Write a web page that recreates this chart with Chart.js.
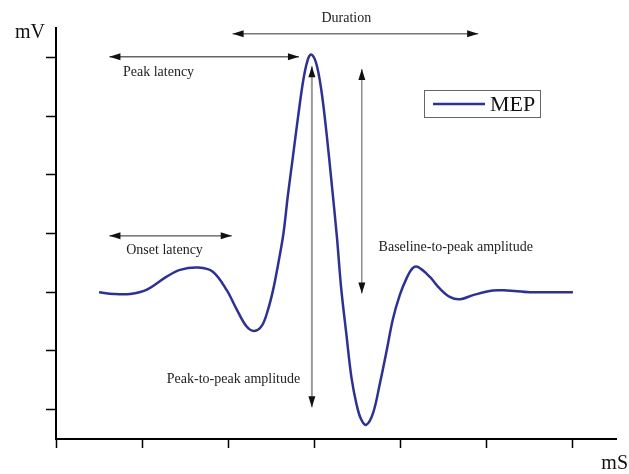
<!DOCTYPE html>
<html>
<head>
<meta charset="utf-8">
<title>MEP</title>
<script src="https://cdn.jsdelivr.net/npm/chart.js@4.4.1/dist/chart.umd.min.js"></script>
<style>
  html, body { margin:0; padding:0; background:#fff; }
  #wrap { width:629px; height:474px; }
</style>
</head>
<body>
<div id="wrap"><canvas id="mepC" width="629" height="474"></canvas></div>
<script>
// MEP waveform, values (x in ms units, y in mV units)
const timeMs = [0.50, 0.67, 0.86, 1.05, 1.28, 1.44, 1.65, 1.82, 1.98, 2.10, 2.21, 2.30,
  2.39, 2.46, 2.52, 2.58, 2.64, 2.69, 2.75, 2.81, 2.87, 2.92, 2.96, 3.02, 3.08, 3.14, 3.20, 3.26,
  3.31, 3.37, 3.43, 3.49, 3.54, 3.60, 3.68, 3.76, 3.84, 3.91, 3.99, 4.07, 4.14, 4.20,
  4.34, 4.45, 4.57, 4.69, 4.84, 5.07, 5.23, 5.50, 6.00];
const mepMv = [0.00, -0.03, -0.03, 0.04, 0.26, 0.38, 0.42, 0.35, 0.04, -0.30, -0.58, -0.66,
  -0.57, -0.30, 0.04, 0.49, 1.00, 1.63, 2.31, 2.99, 3.61, 3.95, 4.05, 3.90, 3.44, 2.71, 1.85, 0.95,
  0.07, -0.71, -1.46, -1.92, -2.16, -2.26, -2.06, -1.55, -0.98, -0.46, -0.05, 0.24, 0.41, 0.43,
  0.26, 0.07, -0.08, -0.12, -0.05, 0.03, 0.03, 0.00, 0.00];
const xTicks = [0, 1, 2, 3, 4, 5, 6];
const yTicks = [-2, -1, 0, 1, 2, 3, 4];
const seriesName = 'MEP';

// measurement arrows, ends in data units
const arrowNames = ['Duration', 'Peak latency', 'Onset latency', 'Peak-to-peak amplitude', 'Baseline-to-peak amplitude'];
const arrowFrom = [[2.05, 4.40], [0.62, 4.01], [0.62, 0.96], [2.97, 3.85], [3.55, 3.80]];
const arrowTo   = [[4.90, 4.40], [2.82, 4.01], [2.04, 0.96], [2.97, -1.96], [3.55, -0.02]];
const labelAt   = [[3.37, 4.66], [1.19, 3.74], [1.26, 0.72], [2.06, -1.49], [4.64, 0.76]];

const LINE_COL = '#2e3192';
const SERIF = '"Liberation Serif", "DejaVu Serif", serif';
const arrowStyle = [
  { color: '#777', w: 1.5 }, { color: '#666', w: 1.5 }, { color: '#555', w: 1.2 },
  { color: '#9a9a9a', w: 2 }, { color: '#555', w: 1 }
];

function arrowHead(ctx, tx, ty, fx, fy) {
  const a = Math.atan2(ty - fy, tx - fx), len = 11, half = 3.5;
  ctx.beginPath();
  ctx.moveTo(tx, ty);
  ctx.lineTo(tx - len * Math.cos(a) + half * Math.sin(a), ty - len * Math.sin(a) - half * Math.cos(a));
  ctx.lineTo(tx - len * Math.cos(a) - half * Math.sin(a), ty - len * Math.sin(a) + half * Math.cos(a));
  ctx.closePath();
  ctx.fill();
}

const annotate = {
  id: 'annotate',
  beforeDatasetsDraw(chart) {
    const { ctx, scales: { x, y } } = chart;
    ctx.save();
    arrowNames.forEach((name, i) => {
      const x1 = x.getPixelForValue(arrowFrom[i][0]), y1 = y.getPixelForValue(arrowFrom[i][1]);
      const x2 = x.getPixelForValue(arrowTo[i][0]), y2 = y.getPixelForValue(arrowTo[i][1]);
      ctx.strokeStyle = arrowStyle[i].color;
      ctx.lineWidth = arrowStyle[i].w;
      ctx.beginPath(); ctx.moveTo(x1, y1); ctx.lineTo(x2, y2); ctx.stroke();
      ctx.fillStyle = '#111';
      arrowHead(ctx, x1, y1, x2, y2);
      arrowHead(ctx, x2, y2, x1, y1);
      ctx.fillStyle = '#222';
      ctx.font = '14px ' + SERIF;
      ctx.textAlign = 'center'; ctx.textBaseline = 'middle';
      ctx.fillText(name, x.getPixelForValue(labelAt[i][0]), y.getPixelForValue(labelAt[i][1]));
    });
    ctx.restore();
  },
  afterDraw(chart) {
    const { ctx } = chart;
    ctx.save();
    // axis units
    ctx.fillStyle = '#111';
    ctx.font = '20px ' + SERIF;
    ctx.textBaseline = 'middle';
    ctx.textAlign = 'left';
    ctx.fillText('mV', 15, 33);
    ctx.textAlign = 'right';
    ctx.fillText('mS', 628, 464);
    // legend box
    ctx.strokeStyle = '#666'; ctx.lineWidth = 1;
    ctx.strokeRect(424.5, 90.5, 116, 27);
    ctx.strokeStyle = LINE_COL; ctx.lineWidth = 2.5;
    ctx.beginPath(); ctx.moveTo(433, 104); ctx.lineTo(485, 104); ctx.stroke();
    ctx.font = '22px ' + SERIF;
    ctx.textAlign = 'left';
    ctx.fillText(seriesName, 490, 105);
    ctx.restore();
  }
};

new Chart(document.getElementById('mepC'), {
  type: 'line',
  data: {
    datasets: [{
      label: seriesName,
      data: timeMs.map((t, i) => ({ x: t, y: mepMv[i] })),
      borderColor: LINE_COL, borderWidth: 2.5,
      pointRadius: 0, fill: false,
      tension: 0.35
    }]
  },
  options: {
    responsive: false, animation: false,
    layout: { padding: { left: 46, top: 28, right: 13, bottom: 26 } },
    plugins: { legend: { display: false }, tooltip: { enabled: false } },
    scales: {
      x: {
        type: 'linear', min: 0, max: 6.5,
        afterBuildTicks: s => { s.ticks = xTicks.map(v => ({ value: v })); },
        ticks: { display: false },
        grid: { drawOnChartArea: false, drawTicks: true, tickLength: 9, tickColor: '#000', tickWidth: 1.5 },
        border: { color: '#000', width: 2 }
      },
      y: {
        type: 'linear', min: -2.5, max: 4.5,
        afterBuildTicks: s => { s.ticks = yTicks.map(v => ({ value: v })); },
        ticks: { display: false },
        grid: { drawOnChartArea: false, drawTicks: true, tickLength: 10, tickColor: '#000', tickWidth: 1.5 },
        border: { color: '#000', width: 2 }
      }
    }
  },
  plugins: [annotate]
});
</script>
</body>
</html>
